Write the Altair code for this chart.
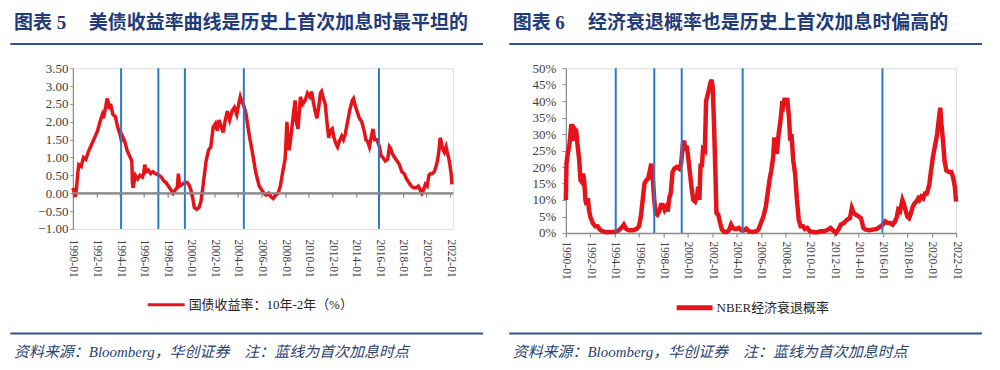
import altair as alt
import pandas as pd

# ---------------- text ----------------
TITLE_L_NO = "图表 5"
TITLE_L = "美债收益率曲线是历史上首次加息时最平坦的"
TITLE_R_NO = "图表 6"
TITLE_R = "经济衰退概率也是历史上首次加息时偏高的"
LEGEND_L = "国债收益率：10年-2年（%）"
LEGEND_R = "NBER经济衰退概率"
SOURCE = "资料来源：Bloomberg，华创证券　注：蓝线为首次加息时点"

# ---------------- data ----------------
spread_years = [
    1990.0, 1990.1, 1990.2, 1990.3, 1990.4, 1990.5, 1990.7, 1990.9, 1991.1, 1991.3,
    1991.5, 1991.7, 1991.9, 1992.1, 1992.3, 1992.5, 1992.6, 1992.8, 1992.9, 1993.0,
    1993.1, 1993.2, 1993.4, 1993.6, 1993.8, 1994.0, 1994.1, 1994.2, 1994.4, 1994.6,
    1994.8, 1995.0, 1995.05, 1995.1, 1995.3, 1995.5, 1995.7, 1995.9, 1996.0, 1996.1,
    1996.2, 1996.4, 1996.6, 1996.8, 1997.0, 1997.3, 1997.5, 1997.7, 1997.9, 1998.1,
    1998.3, 1998.5, 1998.7, 1998.85, 1998.95, 1999.05, 1999.3, 1999.5, 1999.7, 1999.9,
    2000.0, 2000.15, 2000.3, 2000.5, 2000.7, 2000.85, 2001.0, 2001.15, 2001.3, 2001.5,
    2001.7, 2001.9, 2002.1, 2002.25, 2002.4, 2002.6, 2002.75, 2002.9, 2003.1, 2003.3,
    2003.5, 2003.7, 2003.9, 2004.1, 2004.2, 2004.35, 2004.5, 2004.7, 2004.85, 2005.0,
    2005.2, 2005.35, 2005.5, 2005.65, 2005.8, 2006.0, 2006.2, 2006.4, 2006.6, 2006.8,
    2007.0, 2007.2, 2007.4, 2007.6, 2007.8, 2008.0, 2008.1, 2008.15, 2008.25, 2008.35,
    2008.5, 2008.7, 2008.85, 2008.95, 2009.1, 2009.3, 2009.5, 2009.7, 2009.9, 2010.1,
    2010.25, 2010.4, 2010.55, 2010.7, 2010.85, 2011.0, 2011.1, 2011.25, 2011.4, 2011.55,
    2011.7, 2011.85, 2012.0, 2012.15, 2012.3, 2012.45, 2012.6, 2012.8, 2012.95, 2013.1,
    2013.3, 2013.5, 2013.7, 2013.8, 2013.95, 2014.1, 2014.3, 2014.5, 2014.7, 2014.85,
    2015.0, 2015.15, 2015.3, 2015.45, 2015.6, 2015.8, 2016.0, 2016.15, 2016.3, 2016.5,
    2016.7, 2016.85, 2016.95, 2017.1, 2017.3, 2017.5, 2017.7, 2017.9, 2018.1, 2018.3,
    2018.5, 2018.7, 2018.9, 2019.1, 2019.3, 2019.45, 2019.6, 2019.75, 2019.9, 2020.05,
    2020.2, 2020.35, 2020.5, 2020.65, 2020.8, 2020.95, 2021.05, 2021.15, 2021.25, 2021.35,
    2021.5, 2021.65, 2021.75, 2021.9, 2022.0, 2022.1, 2022.15,
]
spread_values = [
    0.15, 0.05, -0.1, 0.1, 0.5, 0.8, 0.75, 1.0, 0.95, 1.15,
    1.3, 1.45, 1.6, 1.75, 2.0, 2.2, 2.1, 2.45, 2.65, 2.55,
    2.35, 2.5, 2.2, 2.15, 1.85, 1.65, 1.5, 1.6, 1.45, 1.2,
    1.05, 0.9, 0.3, 0.15, 0.5, 0.4, 0.5, 0.45, 0.55, 0.8,
    0.6, 0.65, 0.55, 0.6, 0.55, 0.5, 0.45, 0.35, 0.3, 0.2,
    0.1, 0.0, 0.1, 0.15, 0.55, 0.2, 0.25, 0.3, 0.3, 0.2,
    0.1, -0.1, -0.4, -0.45, -0.4, -0.25, 0.1, 0.5, 0.9, 1.2,
    1.3, 1.85, 1.95, 1.75, 2.05, 1.85, 1.7, 2.0, 2.3, 2.05,
    2.3, 2.4, 2.2, 2.55, 2.7, 2.55, 2.45, 2.2, 1.85, 1.55,
    1.2, 0.9, 0.6, 0.4, 0.2, 0.1, 0.0, -0.05, 0.0, -0.1,
    -0.15, -0.05, 0.0, 0.2, 0.6, 0.95, 1.6, 2.0, 1.5, 1.2,
    1.6, 2.2, 2.6, 2.0, 1.8, 2.7, 2.5, 2.6, 2.8, 2.7,
    2.85, 2.55, 2.3, 2.1, 2.4, 2.8, 2.85, 2.65, 2.5, 2.0,
    1.55, 1.75, 1.8, 1.55, 1.4, 1.3, 1.45, 1.6, 1.5, 1.65,
    2.0, 2.35, 2.6, 2.65, 2.45, 2.3, 2.1, 2.0, 1.75, 1.5,
    1.45, 1.3, 1.55, 1.8, 1.5, 1.5, 1.3, 1.05, 1.0, 0.9,
    0.95, 1.3, 1.25, 1.1, 1.0, 0.9, 0.8, 0.6, 0.55, 0.4,
    0.3, 0.2, 0.15, 0.15, 0.2, 0.1, 0.0, 0.1, 0.25, 0.2,
    0.5, 0.55, 0.55, 0.6, 0.75, 0.95, 1.2, 1.55, 1.45, 1.25,
    1.15, 1.3, 1.15, 0.95, 0.75, 0.5, 0.25,
]

recession_years = [
    1990.0, 1990.05, 1990.15, 1990.3, 1990.45, 1990.55, 1990.65, 1990.75, 1990.85, 1990.95,
    1991.1, 1991.2, 1991.3, 1991.4, 1991.5, 1991.6, 1991.7, 1991.8, 1991.9, 1992.0,
    1992.2, 1992.4, 1992.6, 1992.8, 1993.0, 1993.3, 1993.7, 1994.0, 1994.3, 1994.55,
    1994.75, 1994.95, 1995.2, 1995.5, 1995.8, 1996.0, 1996.15, 1996.3, 1996.45, 1996.6,
    1996.75, 1996.9, 1997.0, 1997.1, 1997.25, 1997.35, 1997.5, 1997.65, 1997.8, 1997.95,
    1998.1, 1998.25, 1998.35, 1998.5, 1998.6, 1998.75, 1998.9, 1999.1, 1999.3, 1999.45,
    1999.6, 1999.7, 1999.8, 1999.9, 2000.0, 2000.15, 2000.3, 2000.45, 2000.6, 2000.75,
    2000.85, 2000.95, 2001.05, 2001.15, 2001.25, 2001.4, 2001.5, 2001.7, 2001.85, 2001.95,
    2002.05, 2002.15, 2002.25, 2002.35, 2002.5, 2002.65, 2002.8, 2003.0, 2003.2, 2003.4,
    2003.55, 2003.7, 2003.85, 2004.0, 2004.2, 2004.4, 2004.6, 2004.8, 2005.0, 2005.3,
    2005.6, 2005.8, 2006.0, 2006.2, 2006.4, 2006.55, 2006.7, 2006.85, 2007.0, 2007.1,
    2007.2, 2007.3, 2007.45, 2007.6, 2007.75, 2007.85, 2007.95, 2008.05, 2008.15, 2008.3,
    2008.4, 2008.5, 2008.65, 2008.8, 2008.95, 2009.1, 2009.25, 2009.45, 2009.6, 2009.8,
    2010.0, 2010.3, 2010.6, 2010.9, 2011.2, 2011.5, 2011.7, 2011.9, 2012.15, 2012.35,
    2012.55, 2012.8, 2013.05, 2013.3, 2013.45, 2013.6, 2013.8, 2014.0, 2014.2, 2014.4,
    2014.6, 2014.9, 2015.2, 2015.5, 2015.8, 2016.0, 2016.2, 2016.4, 2016.6, 2016.8,
    2017.0, 2017.15, 2017.25, 2017.4, 2017.6, 2017.7, 2017.85, 2018.0, 2018.15, 2018.3,
    2018.45, 2018.6, 2018.75, 2018.9, 2019.0, 2019.15, 2019.3, 2019.45, 2019.6, 2019.8,
    2019.95, 2020.1, 2020.3, 2020.45, 2020.6, 2020.7, 2020.8, 2020.95, 2021.05, 2021.2,
    2021.4, 2021.6, 2021.75, 2021.9, 2022.0,
]
recession_values = [
    10, 21, 24, 27, 33, 32, 28, 31.5, 31, 27,
    22, 16, 15.5, 18, 16, 10, 8.5, 10.5, 7, 5,
    3, 2, 2, 1, 0.5, 0.2, 0.3, 0.3, 0.7, 1.5,
    2.5, 1.2, 0.8, 0.8, 1.2, 2, 5, 10, 15, 16,
    16.5, 19, 21, 18, 10, 6, 5.5, 6.5, 8.5, 8.5,
    7, 8, 6.5, 11, 12, 18.5, 19.5, 20, 19.5, 21,
    27, 28, 25, 26.5, 24, 19, 14, 10, 9.5, 11,
    14, 10, 21, 20, 25.5, 25, 40, 43, 45.5, 46.5,
    44, 33, 20, 6, 5.5, 3, 1, 0.3, 0.3, 1,
    2.5, 1.5, 1.2, 1.2, 1.5, 0.8, 0.8, 1.3, 0.5, 0.3,
    0.5, 1, 3, 5, 8, 12, 16, 19, 23, 29,
    26, 24, 30, 34, 40, 39, 41, 39, 41, 35,
    28, 30, 22, 18, 10, 4, 2, 2, 1.2, 1.5,
    0.5, 0.2, 0.2, 0.5, 0.5, 1, 1.5, 0.8, 0, 1,
    2.5, 3, 4, 4.5, 7.5, 6, 5.5, 5, 4.5, 1.5,
    1, 0.8, 1, 1.2, 2, 2.5, 3.5, 3, 3, 2.5,
    3.5, 5, 7, 6.5, 10, 9, 7, 5, 4.5, 6,
    8, 9, 9.5, 10.5, 10, 11, 10.5, 12, 12, 14.5,
    19, 23, 27, 30, 35, 38, 33, 27, 22, 19,
    18.5, 18.5, 17, 14, 9.5,
]

hike_years = [1994.09, 1997.25, 1999.5, 2004.5, 2015.96]
x_tick_years = [1990, 1992, 1994, 1996, 1998, 2000, 2002, 2004, 2006, 2008,
                2010, 2012, 2014, 2016, 2018, 2020, 2022]
y_ticks_left = [-1.0, -0.5, 0.0, 0.5, 1.0, 1.5, 2.0, 2.5, 3.0, 3.5]
y_ticks_right = [0, 5, 10, 15, 20, 25, 30, 35, 40, 45, 50]
baseline_value = [0.0]

# ---------------- style ----------------
RED = "#E5141B"
BLUE = "#2E78C7"
GRAY = "#8C8C8C"
NAVY = "#1F3B7A"
RULE = "#2F5496"
LABEL = "#404040"
SERIF = "Liberation Serif, Noto Sans CJK SC"

W_L, H_L = 381, 161
W_R, H_R = 391, 165
Y_L_MIN, Y_L_MAX = -1.0, 3.5

spread_df = pd.DataFrame({"year": spread_years, "value": spread_values})
rec_df = pd.DataFrame({"year": recession_years, "value": recession_values})
hike_df = pd.DataFrame({"year": hike_years})
base_df = pd.DataFrame({"value": baseline_value})
one = pd.DataFrame({"k": [0]})


def text_layer(txt, x, y, size, weight="normal", style="normal", color=NAVY):
    return alt.Chart(one).mark_text(
        text=txt, align="left", baseline="middle", font=SERIF, fontSize=size,
        fontWeight=weight, fontStyle=style, color=color
    ).encode(x=alt.value(x), y=alt.value(y))


def hrule(x1, x2, y, color, w, opacity=1.0):
    return alt.Chart(one).mark_rule(color=color, strokeWidth=w, opacity=opacity).encode(
        x=alt.value(x1), x2=alt.value(x2), y=alt.value(y)
    )


def x_label_axis(pad, show_domain):
    return alt.Axis(
        orient="bottom",
        values=x_tick_years, labelExpr="floor(datum.value) + '-01'", labelAngle=90,
        labelAlign="left", labelBaseline="middle",
        domain=show_domain, domainColor=GRAY, domainWidth=1.5,
        ticks=show_domain, tickColor=GRAY, tickSize=4, tickWidth=1.2,
        grid=False, title=None, labelPadding=pad, labelFont=SERIF,
        labelFontSize=11.5, labelColor=LABEL, labelOverlap=False, labelFlush=False,
    )


# ---------------- left panel ----------------
xl_scale = alt.Scale(domain=[1990, 2022.25], nice=False, zero=False)
yl_scale = alt.Scale(domain=[Y_L_MIN, Y_L_MAX], nice=False, zero=False)
# distance of the value-0 line from the top of the plot, in pixels
zero_from_top = H_L * Y_L_MAX / (Y_L_MAX - Y_L_MIN)

left_line = alt.Chart(spread_df).mark_line(color=RED, strokeWidth=3.5).encode(
    x=alt.X("year:Q", scale=xl_scale, axis=x_label_axis(10, False)),
    y=alt.Y("value:Q", scale=yl_scale,
            axis=alt.Axis(orient="left", values=y_ticks_left, format=".2f", domain=True,
                          domainColor=GRAY, domainWidth=1.2, ticks=True, tickColor=GRAY,
                          tickSize=3, labelPadding=2, grid=False, title=None,
                          labelFont=SERIF, labelFontSize=13, labelColor=LABEL)),
)
# blue first-hike lines; their x axis carries the small ticks hanging under the 0 line
left_hikes = alt.Chart(hike_df).mark_rule(color=BLUE, strokeWidth=2).encode(
    x=alt.X("year:Q", scale=xl_scale,
            axis=alt.Axis(orient="top", values=x_tick_years, labels=False, domain=False,
                          ticks=True, tickColor=GRAY, tickSize=4, tickWidth=1.2,
                          grid=False, title=None, offset=-(zero_from_top + 4))),
)
# 0 line drawn as the grid of a second (invisible) y axis
zero_layer = alt.Chart(base_df).mark_rule(color=GRAY, strokeWidth=2).encode(
    y=alt.Y("value:Q", scale=yl_scale,
            axis=alt.Axis(orient="right", values=baseline_value, grid=True, gridColor=GRAY,
                          gridWidth=2, gridOpacity=1, labels=False, domain=False,
                          ticks=False, title=None)),
)

left = alt.layer(
    left_line,
    left_hikes,
    zero_layer,
    text_layer(TITLE_L_NO, -59, -45, 19, weight="bold"),
    text_layer(TITLE_L, 16, -45, 19, weight="bold"),
    hrule(-62.7, 411, -24.3, RULE, 2),
    hrule(75, 112, 237, RED, 3),
    text_layer(LEGEND_L, 116, 237, 13, color="#262626"),
    hrule(-62.7, 411, 265.7, RULE, 2),
    text_layer(SOURCE, -59, 284.7, 15, style="italic", color="#2B3F73"),
    hrule(-64, -63.5, -59, "#ffffff", 1, opacity=0),
).resolve_axis(x="independent", y="independent").properties(width=W_L, height=H_L)

# ---------------- right panel ----------------
xr_scale = alt.Scale(domain=[1990, 2022], nice=False, zero=False)
xr_axis = x_label_axis(4, True)
right_line = alt.Chart(rec_df).mark_line(color=RED, strokeWidth=4.5).encode(
    x=alt.X("year:Q", scale=xr_scale, axis=xr_axis),
    y=alt.Y("value:Q", scale=alt.Scale(domain=[0, 50], nice=False),
            axis=alt.Axis(values=y_ticks_right, labelExpr="datum.value + '%'", domain=True,
                          domainColor=GRAY, domainWidth=1.2, ticks=True, tickColor=GRAY,
                          tickSize=4, labelPadding=6, grid=False, title=None,
                          labelFont=SERIF, labelFontSize=13, labelColor=LABEL)),
)
right_hikes = alt.Chart(hike_df).mark_rule(color=BLUE, strokeWidth=2).encode(
    x=alt.X("year:Q", scale=xr_scale, axis=xr_axis)
)

right = alt.layer(
    right_line,
    right_hikes,
    text_layer(TITLE_R_NO, -53.3, -45, 19, weight="bold"),
    text_layer(TITLE_R, 22.3, -45, 19, weight="bold"),
    hrule(-56.7, 417, -24.3, RULE, 2),
    hrule(111, 147, 240, RED, 5),
    text_layer(LEGEND_R, 151, 240, 13, color="#262626"),
    hrule(-56.7, 417, 265.7, RULE, 2),
    text_layer(SOURCE, -53.3, 284.7, 15, style="italic", color="#2B3F73"),
    hrule(425.5, 426, 295, "#ffffff", 1, opacity=0),
).properties(width=W_R, height=H_R)

chart = alt.hconcat(left, right, spacing=113, bounds="flush").properties(
    padding={"left": 0, "top": 0, "right": 0, "bottom": 0}
).configure_view(stroke=None).configure(background="white")

chart.save("out.html", embed_options={"renderer": "svg", "actions": False})
